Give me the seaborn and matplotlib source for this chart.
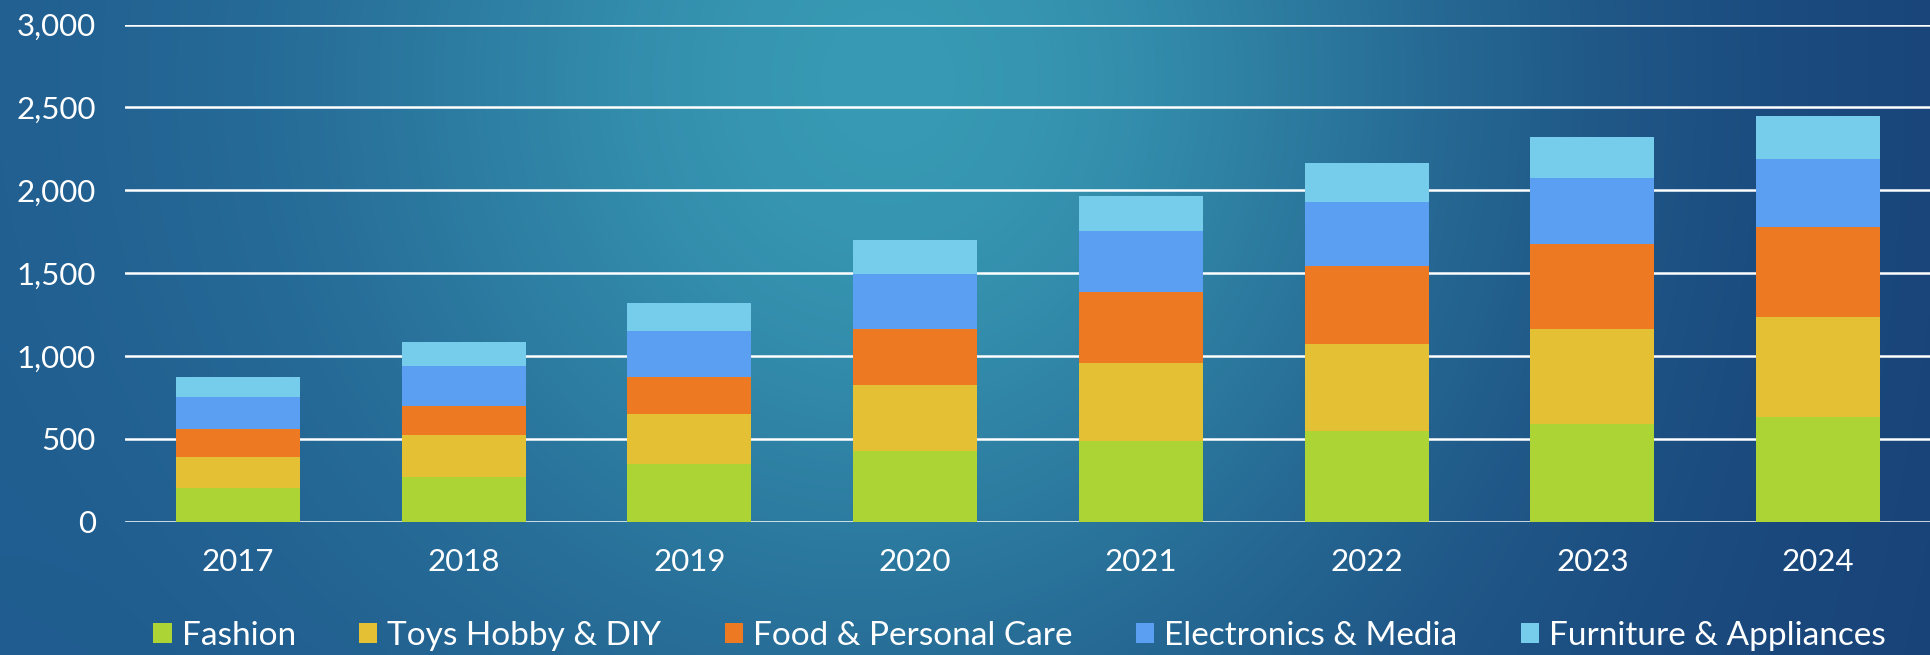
import numpy as np
import pandas as pd
import matplotlib
matplotlib.use("Agg")
import matplotlib.pyplot as plt
from matplotlib.patches import Patch
import seaborn as sns

# Data
years = ["2017", "2018", "2019", "2020", "2021", "2022", "2023", "2024"]
fashion = [203, 272, 347, 425, 489, 545, 588, 632]
toys_hobby_diy = [191, 254, 304, 403, 472, 530, 576, 605]
food_personal_care = [168, 174, 224, 334, 427, 468, 511, 541]
electronics_media = [194, 240, 276, 334, 366, 388, 400, 409]
furniture_appliances = [117, 146, 170, 204, 214, 235, 244, 259]

series_names = ["Fashion", "Toys Hobby & DIY", "Food & Personal Care",
                "Electronics & Media", "Furniture & Appliances"]
series_values = [fashion, toys_hobby_diy, food_personal_care,
                 electronics_media, furniture_appliances]
series_colors = ["#acd434", "#e4c034", "#ed7a22", "#5b9ff2", "#75cdeb"]
y_ticks = [0, 500, 1000, 1500, 2000, 2500, 3000]

sns.set_theme(style="white")
plt.rcParams["font.family"] = ["Lato", "DejaVu Sans"]

W, H, DPI = 1931, 655, 100
fig = plt.figure(figsize=(W / DPI, H / DPI), dpi=DPI)

# Blue gradient background with a soft teal glow near the top centre
bg_ax = fig.add_axes([0, 0, 1, 1], zorder=-10)
gx = np.linspace(0, 1, 400)
gy = np.linspace(0, 1, 140)
X, Y = np.meshgrid(gx, gy)
left_col = np.array([31, 90, 142]) / 255
right_col = np.array([24, 66, 120]) / 255
glow_col = np.array([56, 154, 180]) / 255
edge = left_col[None, None, :] * (1 - X[..., None]) + right_col[None, None, :] * X[..., None]
wgt = np.exp(-(((X - 0.46) / 0.30) ** 2 + ((Y - 0.12) / 0.95) ** 2))
img = edge * (1 - wgt[..., None]) + glow_col[None, None, :] * wgt[..., None]
bg_ax.imshow(img, aspect="auto", extent=[0, 1, 1, 0], interpolation="bicubic")
bg_ax.set_axis_off()

ax = fig.add_axes([125 / W, 1 - 521.8 / H, 1 - 125 / W, (521.8 - 24.6) / H])
ax.set_facecolor("none")

df = pd.DataFrame({"year": years})
bottom = np.zeros(len(years))
for name, vals, col in zip(series_names, series_values, series_colors):
    df[name] = vals
    sns.barplot(data=df, x="year", y=name, bottom=bottom, color=col,
                width=0.55, saturation=1, ax=ax, zorder=3, linewidth=0)
    bottom = bottom + np.array(vals)

ax.set_ylim(0, 3000)
ax.set_xlim(-0.5, 7.5)
ax.set_yticks(y_ticks)
ax.set_yticklabels([f"{v:,}" for v in y_ticks])
ax.yaxis.grid(True, color="white", linewidth=1.8, zorder=1)
ax.set_axisbelow(True)
ax.xaxis.grid(False)
for s in ax.spines.values():
    s.set_visible(False)
ax.set_xlabel("")
ax.set_ylabel("")
ax.tick_params(axis="both", length=0, labelcolor="white", labelsize=22.5)
ax.tick_params(axis="y", pad=21)
ax.tick_params(axis="x", pad=19)

handles = [Patch(facecolor=c, edgecolor="none", label=n)
           for n, c in zip(series_names, series_colors)]
leg = fig.legend(handles=handles, loc="center", bbox_to_anchor=(0.528, 0.029),
                 ncol=5, frameon=False, fontsize=24, handlelength=0.55,
                 handleheight=0.55, handletextpad=0.3, columnspacing=1.9,
                 borderaxespad=0, borderpad=0)
for t in leg.get_texts():
    t.set_color("white")

fig.savefig("out.png", dpi=DPI)
